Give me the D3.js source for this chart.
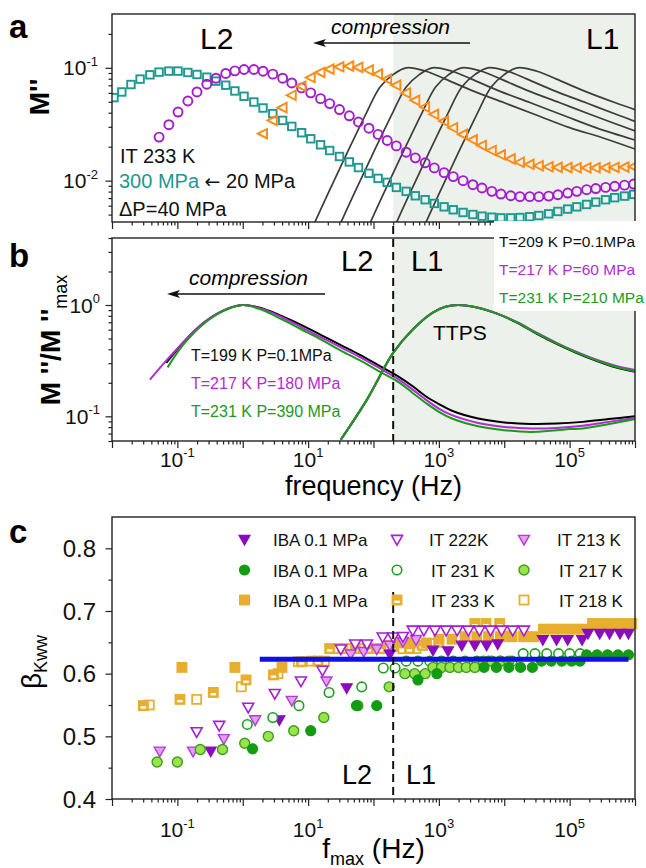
<!DOCTYPE html>
<html>
<head>
<meta charset="utf-8">
<script src="https://cdnjs.cloudflare.com/ajax/libs/d3/7.8.5/d3.min.js"></script>
<style>
  body { margin: 0; background: #fff; }
  svg { display: block; font-family: "Liberation Sans", Arial, sans-serif; }
  .tick line { stroke: #222; stroke-width: 1.2; }
</style>
</head>
<body>
<script>
// ---- data (log10 of frequency in Hz, log10 of M'' or value) ----
// panel a: IT 233 K isotherm, three pressures
const teal300 = [[-1.97,-1.264],[-1.85,-1.214],[-1.71,-1.148],[-1.57,-1.10],[-1.42,-1.062],[-1.28,-1.038],[-1.13,-1.029],[-0.99,-1.029],[-0.84,-1.041],[-0.70,-1.059],[-0.55,-1.083],[-0.41,-1.118],[-0.26,-1.154],[-0.12,-1.205],[0.02,-1.252],[0.17,-1.303],[0.31,-1.356],[0.46,-1.406],[0.61,-1.466],[0.75,-1.519],[0.90,-1.575],[1.04,-1.629],[1.19,-1.682],[1.33,-1.733],[1.48,-1.786],[1.63,-1.834],[1.77,-1.884],[1.93,-1.935],[2.07,-1.98],[2.21,-2.015],[2.35,-2.06],[2.50,-2.095],[2.64,-2.134],[2.79,-2.169],[2.93,-2.202],[3.08,-2.232],[3.22,-2.258],[3.37,-2.282],[3.52,-2.30],[3.66,-2.315],[3.81,-2.324],[3.95,-2.33],[4.10,-2.33],[4.24,-2.327],[4.39,-2.32],[4.53,-2.309],[4.68,-2.294],[4.82,-2.273],[4.97,-2.252],[5.11,-2.232],[5.26,-2.211],[5.40,-2.19],[5.55,-2.169],[5.69,-2.151],[5.84,-2.137],[5.98,-2.122]];
const purpleMid = [[-1.28,-1.614],[-1.13,-1.504],[-0.99,-1.392],[-0.84,-1.294],[-0.70,-1.214],[-0.55,-1.145],[-0.41,-1.092],[-0.26,-1.05],[-0.12,-1.027],[0.02,-1.015],[0.17,-1.015],[0.31,-1.03],[0.46,-1.056],[0.61,-1.092],[0.75,-1.134],[0.90,-1.178],[1.04,-1.222],[1.19,-1.273],[1.33,-1.317],[1.48,-1.37],[1.63,-1.425],[1.77,-1.48],[1.93,-1.535],[2.07,-1.59],[2.21,-1.644],[2.35,-1.692],[2.50,-1.748],[2.64,-1.798],[2.79,-1.842],[2.93,-1.887],[3.08,-1.929],[3.22,-1.964],[3.37,-2.0],[3.52,-2.036],[3.66,-2.065],[3.81,-2.095],[3.95,-2.119],[4.10,-2.134],[4.24,-2.142],[4.39,-2.142],[4.53,-2.142],[4.68,-2.137],[4.82,-2.125],[4.97,-2.11],[5.11,-2.095],[5.26,-2.08],[5.40,-2.07],[5.55,-2.06],[5.69,-2.05],[5.84,-2.04],[5.98,-2.03]];
const orangeLow = [[0.31,-1.584],[0.46,-1.466],[0.61,-1.353],[0.75,-1.243],[0.90,-1.163],[1.04,-1.086],[1.19,-1.041],[1.33,-1.012],[1.48,-0.991],[1.63,-0.985],[1.77,-0.996],[1.93,-1.02],[2.07,-1.055],[2.21,-1.10],[2.35,-1.155],[2.50,-1.223],[2.64,-1.288],[2.79,-1.347],[2.93,-1.412],[3.08,-1.472],[3.22,-1.531],[3.37,-1.59],[3.52,-1.638],[3.66,-1.688],[3.81,-1.733],[3.95,-1.771],[4.10,-1.807],[4.24,-1.837],[4.39,-1.855],[4.53,-1.868],[4.68,-1.877],[4.82,-1.882],[4.97,-1.885],[5.11,-1.886],[5.26,-1.886],[5.40,-1.886],[5.55,-1.885],[5.69,-1.883],[5.84,-1.88],[5.98,-1.876]];
const fitA1 = [[1.0,-2.5],[1.3,-2.12],[1.6,-1.75],[1.9,-1.39],[2.1,-1.17],[2.3,-1.06],[2.5,-1.0],[2.8,-1.03],[3.1,-1.1],[3.5,-1.2],[4.0,-1.31],[4.5,-1.42],[5.0,-1.53],[5.5,-1.62],[6.0,-1.72]];
const fitA2 = [[1.4,-2.5],[1.7,-2.12],[2.0,-1.75],[2.3,-1.39],[2.5,-1.17],[2.7,-1.06],[2.9,-1.0],[3.2,-1.03],[3.5,-1.1],[3.9,-1.2],[4.4,-1.31],[4.9,-1.42],[5.4,-1.53],[6.0,-1.64]];
const fitA3 = [[1.85,-2.5],[2.15,-2.12],[2.45,-1.75],[2.75,-1.39],[2.95,-1.17],[3.15,-1.06],[3.35,-1.0],[3.65,-1.03],[3.95,-1.1],[4.35,-1.2],[4.85,-1.31],[5.35,-1.42],[6.0,-1.56]];
const fitA4 = [[2.25,-2.5],[2.55,-2.12],[2.85,-1.75],[3.15,-1.39],[3.35,-1.17],[3.55,-1.06],[3.75,-1.0],[4.05,-1.03],[4.35,-1.1],[4.75,-1.2],[5.25,-1.31],[5.75,-1.42],[6.0,-1.475]];
const fitA5 = [[2.7,-2.5],[3.0,-2.12],[3.3,-1.75],[3.6,-1.39],[3.8,-1.17],[4.0,-1.06],[4.2,-1.0],[4.5,-1.03],[4.8,-1.1],[5.2,-1.2],[5.7,-1.31],[6.0,-1.37]];

// panel b: normalised spectra (log10 f, log10 M''/M''max)
const l2Black = [[-1.17,-0.52],[-0.9,-0.33],[-0.6,-0.16],[-0.3,-0.05],[0,0],[0.3,-0.03],[0.6,-0.1],[0.9,-0.18],[1.2,-0.27],[1.5,-0.36],[1.8,-0.45],[2.1,-0.55],[2.4,-0.65],[2.6,-0.73],[2.8,-0.82],[3.0,-0.89],[3.2,-0.95],[3.6,-1.02],[4.0,-1.055],[4.4,-1.068],[4.8,-1.065],[5.2,-1.05],[5.6,-1.025],[6.0,-1.0]];
const l2Purple = [[-1.42,-0.67],[-1.17,-0.5],[-0.9,-0.33],[-0.6,-0.16],[-0.3,-0.05],[0,0],[0.3,-0.035],[0.6,-0.11],[0.9,-0.2],[1.2,-0.29],[1.5,-0.38],[1.8,-0.47],[2.1,-0.57],[2.4,-0.675],[2.6,-0.76],[2.8,-0.85],[3.0,-0.93],[3.2,-0.99],[3.6,-1.06],[4.0,-1.095],[4.4,-1.11],[4.8,-1.105],[5.2,-1.085],[5.6,-1.05],[6.0,-1.015]];
const l2Green = [[-1.15,-0.56],[-0.9,-0.35],[-0.6,-0.17],[-0.3,-0.055],[0,0],[0.3,-0.045],[0.6,-0.13],[0.9,-0.22],[1.2,-0.31],[1.5,-0.41],[1.8,-0.5],[2.1,-0.6],[2.4,-0.7],[2.6,-0.79],[2.8,-0.88],[3.0,-0.96],[3.2,-1.02],[3.6,-1.09],[4.0,-1.125],[4.4,-1.14],[4.8,-1.125],[5.0,-1.115],[5.2,-1.11],[5.6,-1.07],[6.0,-1.023]];
const l1Black = [[1.5,-1.21],[1.9,-0.85],[2.3,-0.43],[2.6,-0.22],[2.9,-0.07],[3.1,-0.015],[3.3,0],[3.6,-0.025],[3.9,-0.08],[4.2,-0.16],[4.5,-0.26],[4.8,-0.35],[5.1,-0.43],[5.4,-0.5],[5.7,-0.56],[6.0,-0.6]];
const l1Purple = [[1.5,-1.21],[1.9,-0.85],[2.3,-0.43],[2.6,-0.22],[2.9,-0.07],[3.1,-0.015],[3.3,0],[3.6,-0.025],[3.9,-0.08],[4.2,-0.155],[4.5,-0.25],[4.8,-0.34],[5.1,-0.42],[5.4,-0.49],[5.7,-0.545],[6.0,-0.585]];
const l1Green = [[1.5,-1.21],[1.9,-0.85],[2.3,-0.43],[2.6,-0.22],[2.9,-0.07],[3.1,-0.015],[3.3,0],[3.6,-0.025],[3.9,-0.08],[4.2,-0.158],[4.5,-0.255],[4.8,-0.345],[5.1,-0.425],[5.4,-0.495],[5.7,-0.555],[6.0,-0.595]];

// panel c: beta_KWW vs log10 f_max
const ibaPurple = [[-0.49,0.477],[0.56,0.527],[1.59,0.578],[2.25,0.632],[2.91,0.638],[3.14,0.637],[3.35,0.646],[3.55,0.646],[3.73,0.646],[3.9,0.648],[4.59,0.655],[4.8,0.655],[4.97,0.655],[5.19,0.655],[5.28,0.665],[5.46,0.665],[5.61,0.665],[5.77,0.665],[5.9,0.665]];
const it222 = [[-0.705,0.508],[-0.36,0.518],[0.084,0.547],[0.49,0.569],[0.89,0.589],[1.22,0.606],[1.5,0.64],[1.72,0.648],[1.9,0.648],[2.14,0.659],[2.3,0.659],[2.45,0.66],[2.6,0.67],[2.77,0.67],[2.94,0.67],[3.11,0.67],[3.28,0.67],[3.45,0.67],[3.62,0.67],[3.79,0.67],[3.96,0.67],[4.13,0.67],[4.3,0.67]];
const it213 = [[-1.27,0.477],[-0.76,0.477],[-0.29,0.497],[0.19,0.527],[0.75,0.558],[1.28,0.589],[1.65,0.632],[1.85,0.636],[2.05,0.64],[2.25,0.646],[2.45,0.652],[2.65,0.655]];
const ibaGreen = [[0.15,0.48],[1.04,0.509],[1.74,0.549],[2.05,0.549],[2.68,0.59],[2.97,0.6],[3.69,0.61],[3.88,0.61],[4.07,0.61],[4.25,0.61],[4.43,0.61],[4.57,0.62],[4.72,0.62],[4.88,0.62],[5.03,0.62],[5.16,0.62],[5.26,0.63],[5.42,0.63],[5.58,0.63],[5.74,0.63],[5.9,0.63]];
const it231 = [[0.07,0.519],[0.46,0.53],[0.86,0.549],[1.32,0.57],[1.82,0.579],[2.15,0.609],[2.33,0.609],[2.5,0.62],[2.68,0.62],[2.86,0.62],[3.04,0.62],[3.22,0.62],[3.4,0.62],[3.58,0.62],[3.76,0.62],[3.94,0.62],[4.12,0.62],[4.29,0.632],[4.47,0.632],[4.65,0.632],[4.83,0.632],[5.0,0.632],[5.16,0.632]];
const it217 = [[-1.31,0.459],[-1.0,0.459],[-0.65,0.479],[-0.31,0.479],[0.03,0.489],[0.39,0.5],[0.78,0.509],[1.24,0.53],[1.76,0.549],[2.24,0.579],[2.48,0.6],[2.63,0.6],[2.79,0.6],[2.91,0.61],[3.04,0.61],[3.17,0.61],[3.3,0.61],[3.42,0.61],[3.55,0.61],[3.68,0.62],[3.81,0.62],[3.94,0.62],[4.07,0.62]];
const ibaGold = [[-0.93,0.61],[-0.12,0.61],[0.6,0.61],[2.38,0.649],[2.58,0.649],[2.81,0.649],[3.0,0.655],[3.2,0.655],[3.4,0.659],[3.58,0.659],[3.76,0.659],[3.94,0.659],[4.12,0.659],[4.3,0.659],[4.45,0.659],[4.6,0.671],[4.75,0.671],[4.9,0.671],[5.05,0.671],[5.2,0.671],[5.35,0.68],[5.5,0.68],[5.65,0.68],[5.8,0.68],[5.95,0.68]];
const it233 = [[-1.52,0.549],[-0.96,0.559],[-0.45,0.57],[0.05,0.59],[0.47,0.598],[0.9,0.619],[1.15,0.62],[1.33,0.64],[1.53,0.64],[1.72,0.64],[1.92,0.64],[2.11,0.64],[2.3,0.643],[2.55,0.64],[2.75,0.645],[3.0,0.65],[3.55,0.68],[3.72,0.68],[3.93,0.68],[4.1,0.66],[4.3,0.66]];
const it218 = [[-1.43,0.55],[-0.705,0.559],[-0.023,0.579],[0.54,0.6],[0.85,0.619],[1.05,0.62],[1.25,0.62],[1.45,0.64],[1.65,0.64],[1.85,0.64],[2.05,0.64],[2.2,0.645],[2.45,0.64],[2.65,0.64],[2.9,0.648]];
const betaLine = [[0.26,0.623],[5.9,0.623]];

const fBorder = 200; // L2 / L1 boundary, Hz
const xMajor = [1e-2,1e-1,1e0,1e1,1e2,1e3,1e4,1e5,1e6];
const xLabelExp = [-1, 1, 3, 5];

// ---- layout ----
const width = 646, height = 868;
const left = 112, right = 635;
const svg = d3.select('body').append('svg').attr('width', width).attr('height', height);

const x = d3.scaleLog().domain([1e-2, 1e6]).range([left, right]);
const yA = d3.scaleLog().domain([0.0043, 0.30]).range([222, 14]);
const yB = d3.scaleLog().domain([0.06, 4]).range([441, 238]);
const yC = d3.scaleLinear().domain([0.4, 0.85]).range([799, 517]);

const shade = '#edf1eb';
const lgX = d => x(10 ** d[0]);

function minorLog(lo, hi) {
  const out = [];
  for (let e = Math.floor(Math.log10(lo)); e < Math.ceil(Math.log10(hi)); e++) {
    for (let k = 2; k < 10; k++) {
      const v = k * 10 ** e;
      if (v >= lo && v <= hi) out.push(v);
    }
  }
  return out;
}

function xAxisTicks(yPos) {
  const g = svg.append('g').attr('transform', `translate(0,${yPos})`);
  g.append('g').call(d3.axisBottom(x).tickValues(xMajor).tickSize(7).tickSizeOuter(0).tickFormat(''))
    .call(a => a.select('.domain').remove());
  g.append('g').call(d3.axisBottom(x).tickValues(minorLog(1e-2, 1e6)).tickSize(3.5).tickSizeOuter(0).tickFormat(''))
    .call(a => a.select('.domain').remove());
}

function yAxisTicks(scale, major, minor) {
  const g = svg.append('g').attr('transform', `translate(${left},0)`);
  g.append('g').call(d3.axisLeft(scale).tickValues(major).tickSize(6.5).tickSizeOuter(0).tickFormat(''))
    .call(a => a.select('.domain').remove());
  g.append('g').call(d3.axisLeft(scale).tickValues(minor).tickSize(3.5).tickSizeOuter(0).tickFormat(''))
    .call(a => a.select('.domain').remove());
}

function powLabel(xp, yp, exp, anchor) {
  const t = svg.append('text').attr('x', xp).attr('y', yp).attr('text-anchor', anchor)
    .attr('font-size', 21).attr('fill', '#111');
  t.append('tspan').text('10');
  t.append('tspan').attr('font-size', 13).attr('dy', -9.5).text(exp);
}

function frame(top, bottom) {
  svg.append('rect').attr('x', left).attr('y', top).attr('width', right - left).attr('height', bottom - top)
    .attr('fill', 'none').attr('stroke', '#222').attr('stroke-width', 1.4);
}

function clip(id, top, bottom) {
  svg.append('clipPath').attr('id', id).append('rect')
    .attr('x', left).attr('y', top).attr('width', right - left).attr('height', bottom - top);
}

// left-pointing arrow: shaft plus filled head
function arrowLeft(x1, x2, yy) {
  svg.append('line').attr('x1', x1).attr('x2', x2 + 8).attr('y1', yy).attr('y2', yy)
    .attr('stroke', '#111').attr('stroke-width', 1.3);
  svg.append('path').attr('d', `M${x2},${yy}L${x2 + 13},${yy - 4}L${x2 + 10},${yy}L${x2 + 13},${yy + 4}Z`)
    .attr('fill', '#111');
}

function addShape(sel, type, st) {
  const s = st.size;
  let m;
  if (type === 'circle') m = sel.append('circle').attr('r', s / 2);
  else if (type === 'square' || type === 'half') m = sel.append('rect').attr('x', -s / 2).attr('y', -s / 2).attr('width', s).attr('height', s);
  else if (type === 'triDown') m = sel.append('path').attr('d', `M${-s / 2},${-s * 0.33}L${s / 2},${-s * 0.33}L0,${s * 0.55}Z`);
  else if (type === 'triLeft') m = sel.append('path').attr('d', `M${-s * 0.55},0L${s * 0.42},${-s / 2}L${s * 0.42},${s / 2}Z`);
  m.attr('fill', st.fill).attr('stroke', st.stroke).attr('stroke-width', st.sw);
  if (type === 'half') {
    sel.append('rect').attr('x', -s / 2 + 2).attr('y', 0.6).attr('width', s - 4).attr('height', s / 2 - 2.4).attr('fill', '#fff');
  }
}

function drawSeries(g, data, yFn, type, st) {
  const pts = g.append('g').selectAll('g').data(data).join('g')
    .attr('transform', d => `translate(${lgX(d)},${yFn(d)})`);
  addShape(pts, type, st);
}

// ================= panel a =================
clip('clipA', 14, 222);
svg.append('rect').attr('x', x(fBorder)).attr('y', 14).attr('width', right - x(fBorder)).attr('height', 208).attr('fill', shade);

const lineA = d3.line().x(lgX).y(d => yA(10 ** d[1])).curve(d3.curveCatmullRom.alpha(0.5));
const gA = svg.append('g').attr('clip-path', 'url(#clipA)');
[fitA1, fitA2, fitA3, fitA4, fitA5].forEach(c => {
  gA.append('path').datum(c).attr('d', lineA).attr('fill', 'none').attr('stroke', '#3d3d3d').attr('stroke-width', 1.7);
});
const yAfn = d => yA(10 ** d[1]);
drawSeries(gA, teal300, yAfn, 'square', { size: 7.5, fill: 'none', stroke: '#1f9892', sw: 1.9 });
drawSeries(gA, purpleMid, yAfn, 'circle', { size: 9, fill: 'none', stroke: '#a21ccc', sw: 1.9 });
drawSeries(gA, orangeLow, yAfn, 'triLeft', { size: 9.5, fill: 'none', stroke: '#ff8a14', sw: 1.9 });

frame(14, 222);
xAxisTicks(222);
yAxisTicks(yA, [0.01, 0.1], minorLog(0.0043, 0.3));
powLabel(98, yA(0.1) + 7.5, '-1', 'end');
powLabel(98, yA(0.01) + 7.5, '-2', 'end');

svg.append('text').attr('transform', 'translate(49,97) rotate(-90)').attr('text-anchor', 'middle')
  .attr('font-size', 28).attr('font-weight', 'bold').text("M''");
svg.append('text').attr('x', 9).attr('y', 38).attr('font-size', 33).attr('font-weight', 'bold').text('a');

svg.append('text').attr('x', 200).attr('y', 49).attr('font-size', 30).text('L2');
svg.append('text').attr('x', 586).attr('y', 49).attr('font-size', 30).text('L1');
svg.append('text').attr('x', 331).attr('y', 34).attr('font-size', 21).attr('font-style', 'italic').text('compression');
arrowLeft(470, 313, 43);

const infoA = svg.append('g').attr('font-size', 20).attr('fill', '#111');
infoA.append('text').attr('x', 120).attr('y', 163).text('IT 233 K');
const pLine = infoA.append('text').attr('x', 119).attr('y', 188);
pLine.append('tspan').attr('fill', '#1f9892').text('300 MPa ');
pLine.append('tspan').attr('font-family', 'DejaVu Sans').attr('font-size', 19).text('\u2190');
pLine.append('tspan').text(' 20 MPa');
infoA.append('text').attr('x', 119).attr('y', 216).text('\u0394P=40 MPa');

// ================= panel b =================
clip('clipB', 238, 441);
svg.append('rect').attr('x', x(fBorder)).attr('y', 238).attr('width', right - x(fBorder)).attr('height', 203).attr('fill', shade);

const lineB = d3.line().x(lgX).y(d => yB(10 ** d[1])).curve(d3.curveCatmullRom.alpha(0.5));
const gB = svg.append('g').attr('clip-path', 'url(#clipB)');
[[l2Black, '#000'], [l2Purple, '#b42ad6'], [l2Green, '#1c9a1c'], [l1Black, '#000'], [l1Purple, '#b42ad6'], [l1Green, '#1c9a1c']]
  .forEach(([c, col]) => {
    gB.append('path').datum(c).attr('d', lineB).attr('fill', 'none').attr('stroke', col).attr('stroke-width', 2);
  });

frame(238, 441);
xAxisTicks(441);
yAxisTicks(yB, [0.1, 1], minorLog(0.06, 4));
powLabel(100, yB(1) + 7.5, '0', 'end');
powLabel(100, yB(0.1) + 7.5, '-1', 'end');
xLabelExp.forEach(e => powLabel(x(10 ** e), 466.5, String(e), 'middle'));

svg.append('text').attr('x', (left + right) / 2).attr('y', 495).attr('text-anchor', 'middle')
  .attr('font-size', 27).text('frequency (Hz)');

const yLabB = svg.append('text').attr('transform', 'translate(60,340) rotate(-90)').attr('text-anchor', 'middle')
  .attr('font-size', 28).attr('font-weight', 'bold');
yLabB.append('tspan').text("M ''/M ''");
yLabB.append('tspan').attr('font-size', 18).attr('font-weight', 'normal').attr('dy', 7).text('max');
svg.append('text').attr('x', 9).attr('y', 267).attr('font-size', 33).attr('font-weight', 'bold').text('b');

svg.append('line').attr('x1', x(fBorder)).attr('x2', x(fBorder)).attr('y1', 226).attr('y2', 441)
  .attr('stroke', '#111').attr('stroke-width', 2).attr('stroke-dasharray', '8,5');

svg.append('text').attr('x', 341).attr('y', 271).attr('font-size', 29).text('L2');
svg.append('text').attr('x', 411).attr('y', 271).attr('font-size', 29).text('L1');
svg.append('text').attr('x', 189).attr('y', 285).attr('font-size', 21).attr('font-style', 'italic').text('compression');
arrowLeft(325, 167, 294);
svg.append('text').attr('x', 433).attr('y', 340).attr('font-size', 21).text('TTPS');

const legL = svg.append('g').attr('font-size', 16);
[['T=199 K P=0.1MPa', '#111'], ['T=217 K P=180 MPa', '#b42ad6'], ['T=231 K P=390 MPa', '#1c9a1c']]
  .forEach(([t, c], i) => legL.append('text').attr('x', 191).attr('y', 360.5 + i * 28).attr('fill', c).text(t));

// white legend box that sits over the top-right corner
svg.append('rect').attr('x', 494).attr('y', 221).attr('width', 152).attr('height', 90).attr('fill', '#fff');
const legR = svg.append('g').attr('font-size', 15.5);
[['T=209 K P=0.1MPa', '#111'], ['T=217 K P=60 MPa', '#b42ad6'], ['T=231 K P=210 MPa', '#1c9a1c']]
  .forEach(([t, c], i) => legR.append('text').attr('x', 499).attr('y', 247 + i * 28).attr('fill', c).text(t));

// ================= panel c =================
const yCfn = d => yC(d[1]);
const gC = svg.append('g');
const stIbaGold = { size: 9.5, fill: '#e8ae2f', stroke: '#e8ae2f', sw: 1.4 };
const stHalf = { size: 9.5, fill: '#e8ae2f', stroke: '#e8ae2f', sw: 1.4 };
const stOpenGold = { size: 9, fill: '#fff', stroke: '#e8ae2f', sw: 1.8 };
const stIbaPurple = { size: 11, fill: '#8a0cbf', stroke: '#8a0cbf', sw: 1.2 };
const stOpenPurple = { size: 11, fill: '#fff', stroke: '#a51fd3', sw: 1.6 };
const stLightPurple = { size: 11, fill: '#e3a0f2', stroke: '#b13cd6', sw: 1.4 };
const stIbaGreen = { size: 10, fill: '#149b14', stroke: '#149b14', sw: 1.2 };
const stOpenGreen = { size: 9.5, fill: '#fff', stroke: '#1f9f1f', sw: 1.6 };
const stLightGreen = { size: 10, fill: '#9be34c', stroke: '#3b9e1c', sw: 1.4 };

drawSeries(gC, it218, yCfn, 'square', stOpenGold);
drawSeries(gC, it233, yCfn, 'half', stHalf);
drawSeries(gC, ibaGold, yCfn, 'square', stIbaGold);
drawSeries(gC, it213, yCfn, 'triDown', stLightPurple);
drawSeries(gC, it222, yCfn, 'triDown', stOpenPurple);
drawSeries(gC, ibaPurple, yCfn, 'triDown', stIbaPurple);
drawSeries(gC, it231, yCfn, 'circle', stOpenGreen);
drawSeries(gC, it217, yCfn, 'circle', stLightGreen);
drawSeries(gC, ibaGreen, yCfn, 'circle', stIbaGreen);

gC.append('path').datum(betaLine).attr('d', d3.line().x(lgX).y(yCfn))
  .attr('stroke', '#0f0fe6').attr('stroke-width', 5).attr('fill', 'none');

svg.append('line').attr('x1', x(fBorder)).attr('x2', x(fBorder)).attr('y1', 592).attr('y2', 799)
  .attr('stroke', '#111').attr('stroke-width', 2).attr('stroke-dasharray', '8,5');

frame(517, 799);
xAxisTicks(799);
const yMajorC = [0.4, 0.5, 0.6, 0.7, 0.8];
yAxisTicks(yC, yMajorC, [0.45, 0.55, 0.65, 0.75]);
yMajorC.forEach(v => svg.append('text').attr('x', 96).attr('y', yC(v) + 8.5).attr('text-anchor', 'end')
  .attr('font-size', 24).attr('fill', '#111').text(v.toFixed(1)));
xLabelExp.forEach(e => powLabel(x(10 ** e), 837, String(e), 'middle'));

const fLab = svg.append('text').attr('x', (left + right) / 2).attr('y', 858).attr('text-anchor', 'middle').attr('font-size', 28);
fLab.append('tspan').text('f');
fLab.append('tspan').attr('font-size', 18).attr('dy', 7).text('max');
fLab.append('tspan').attr('dy', -7).text(' (Hz)');

const bLab = svg.append('text').attr('transform', 'translate(41,662) rotate(-90)').attr('text-anchor', 'middle').attr('font-size', 28);
bLab.append('tspan').text('\u03b2');
bLab.append('tspan').attr('font-size', 18).attr('dy', 6).text('Kww');
svg.append('text').attr('x', 9).attr('y', 543).attr('font-size', 33).attr('font-weight', 'bold').text('c');

svg.append('text').attr('x', 342).attr('y', 784).attr('font-size', 27).text('L2');
svg.append('text').attr('x', 406).attr('y', 784).attr('font-size', 27).text('L1');

// legend
const legC = [
  [244.5, 539, 'triDown', stIbaPurple, 273, 'IBA 0.1 MPa'],
  [397, 539, 'triDown', stOpenPurple, 429, 'IT 222K'],
  [524, 539, 'triDown', stLightPurple, 557, 'IT 213 K'],
  [244.5, 570, 'circle', stIbaGreen, 273, 'IBA 0.1 MPa'],
  [397, 570, 'circle', stOpenGreen, 431, 'IT 231 K'],
  [524, 570, 'circle', stLightGreen, 559, 'IT 217 K'],
  [244.5, 600, 'square', stIbaGold, 273, 'IBA 0.1 MPa'],
  [397, 600, 'half', stHalf, 431, 'IT 233 K'],
  [524, 600, 'square', stOpenGold, 559, 'IT 218 K']
];
legC.forEach(([mx, my, type, st, tx, label]) => {
  const g = svg.append('g').attr('transform', `translate(${mx},${my})`);
  addShape(g, type, st);
  svg.append('text').attr('x', tx).attr('y', my + 6.5).attr('font-size', 17).attr('fill', '#111').text(label);
});
</script>
</body>
</html>
